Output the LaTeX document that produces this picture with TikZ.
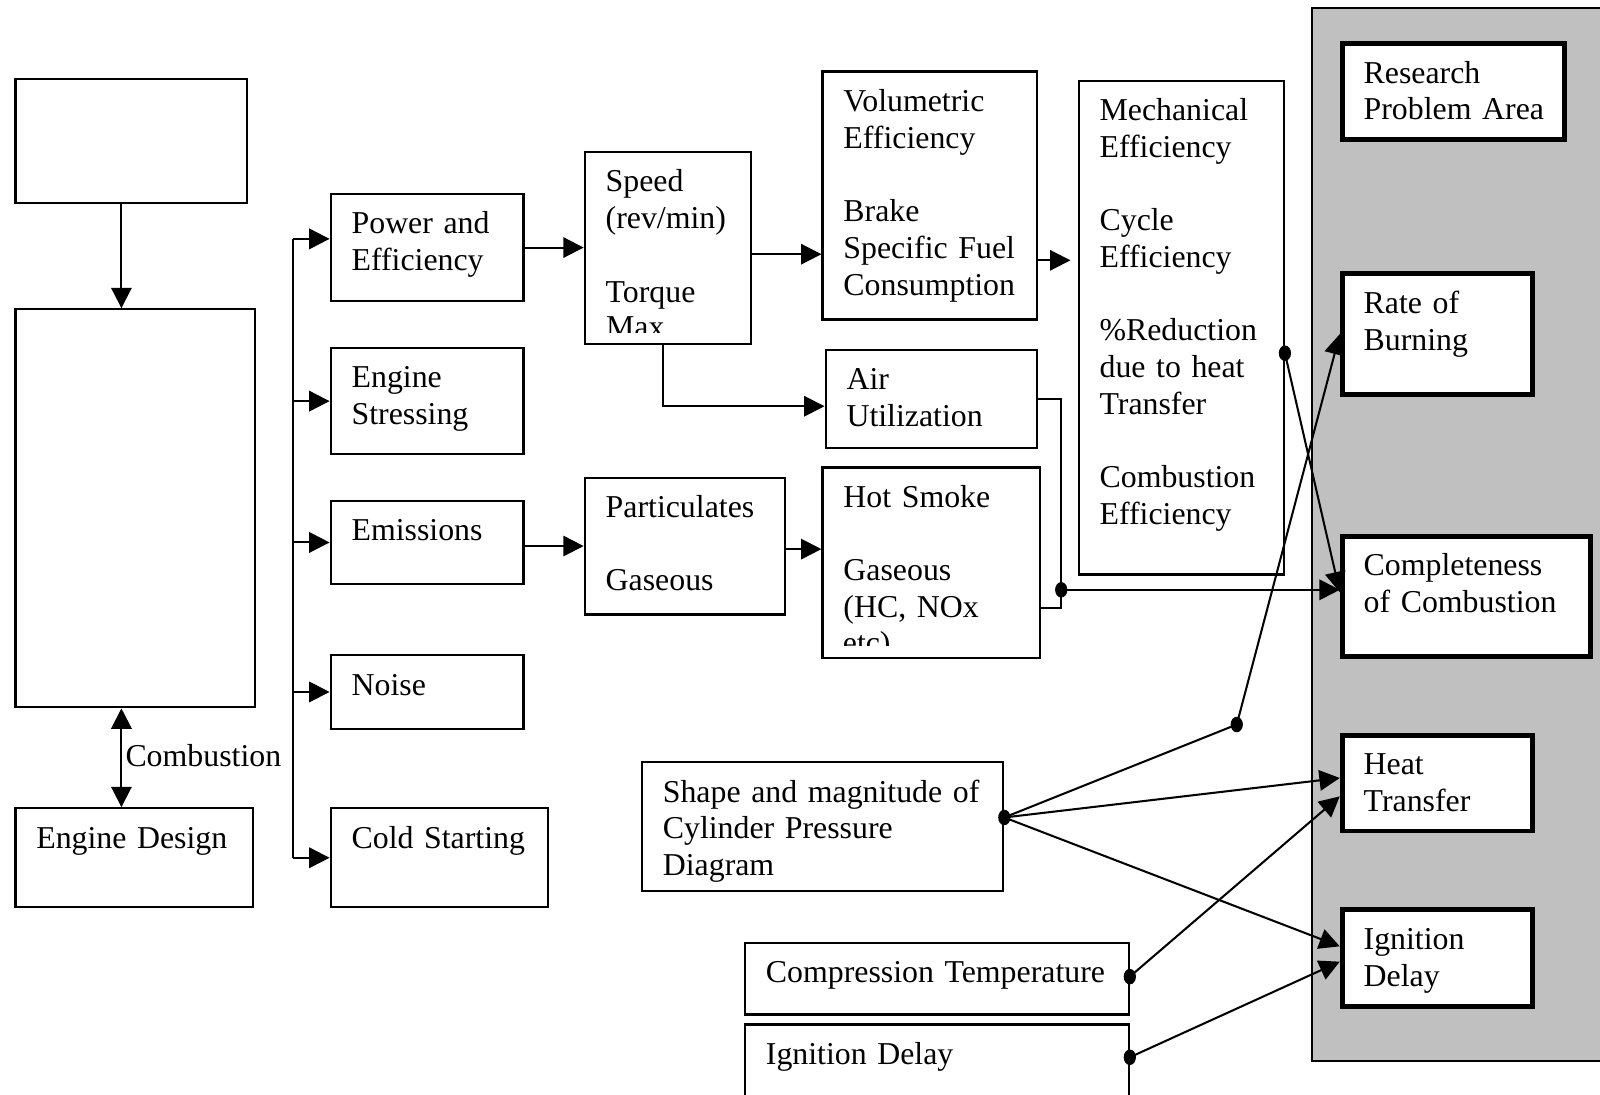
\documentclass[tikz,border=0pt]{standalone}
\usepackage{fontspec}
\setmainfont{Liberation Serif}
\usetikzlibrary{arrows.meta}

\begin{document}
\begin{tikzpicture}[x=0.5pt,y=0.5pt,yscale=-1,xscale=1,
  font=\fontsize{15.6}{18}\selectfont, line width=1pt,
  box/.style={draw, line width=1.1pt, anchor=north west, align=left, inner xsep=10.25pt, inner ysep=0pt, text height=19.5pt},
  rbox/.style={draw, line width=2.4pt, fill=white, anchor=north west, align=left, inner xsep=10.5pt, inner ysep=0pt, text height=19.5pt},
  arr/.style={-{Triangle[length=10pt,width=10pt]}},
  dbl/.style={{Triangle[length=10pt,width=10pt]}-{Triangle[length=10pt,width=10pt]}},
  jdot/.style={x radius=3pt, y radius=3.8pt}]
\useasboundingbox (0,0) rectangle (1568,1073);

%Shape: Research panel
\draw [fill={rgb,255:red,192;green,192;blue,192}, line width=1pt] (1286,8) rectangle (1600,1040);

%Shape: Left column
\node [box, text width=93pt, text depth=41.5pt] (top) at (14,76) {};
\node [box, text width=97pt, text depth=175.5pt] (mid) at (14,302) {};
\node [box, text width=96pt, text depth=29pt] (design) at (14,791) {Engine~Design};

%Shape: Branches
\node [box, text width=74pt, text depth=33pt] (power) at (323,189) {Power and\\Efficiency};
\node [box, text width=74pt, text depth=32.5pt] (stress) at (323,340) {Engine\\Stressing};
\node [box, text width=74pt, text depth=21pt] (emis) at (323,490) {Emissions};
\node [box, text width=74pt, text depth=16.5pt] (noise) at (323,641) {Noise};
\node [box, text width=86pt, text depth=29pt] (cold) at (323,791) {Cold~Starting};

%Shape: Measures
\node [box, text width=61pt, text depth=74.5pt] (speed) at (572,148) {Speed\\(rev/min)\\[18pt]Torque};
\node [box, text width=84.5pt, text depth=102pt] (vol) at (805,69) {Volumetric\\Efficiency\\[18pt]Brake\\Specific~Fuel\\Consumption};
\node [box, text width=80pt, text depth=222.5pt] (mech) at (1056,78) {Mechanical\\Efficiency\\[18pt]Cycle\\Efficiency\\[18pt]\%Reduction\\due to heat\\Transfer\\[18pt]Combustion\\Efficiency};
\node [box, text width=83pt, text depth=28.5pt] (air) at (808,342) {Air\\Utilization};
\node [box, text width=77.5pt, text depth=47.5pt] (part) at (572,467) {Particulates\\[18pt]Gaseous};
\node [box, text width=86pt, text depth=74pt] (smoke) at (805,457) {Hot~Smoke\\[18pt]Gaseous\\(HC, NOx};

% Text Node (cut lines)
\begin{scope}
\clip (572,148) rectangle (735,326);
\node [anchor=base west, inner sep=0pt] (tmax) at (593,331) {Max};
\end{scope}
\begin{scope}
\clip (805,457) rectangle (1018,633);
\node [anchor=base west, inner sep=0pt] (tetc) at (825,640) {etc)};
\end{scope}

%Shape: Diagnostics
\node [box, text width=156.5pt, text depth=43.5pt] (shape) at (628,746) {Shape and magnitude of\\Cylinder Pressure\\Diagram};
\node [box, text width=167.5pt, text depth=15.5pt] (comp) at (729,923) {Compression~Temperature};
\node [box, text width=167.5pt, text depth=30.5pt] (igd) at (729,1003) {Ignition Delay};

%Shape: Research problem areas
\node [rbox, text width=88pt, text depth=27.5pt] (rpa) at (1313,40) {Research\\Problem~Area};
\node [rbox, text width=72pt, text depth=39.5pt] (rob) at (1313,266) {Rate of\\Burning};
\node [rbox, text width=100.5pt, text depth=39.5pt] (coc) at (1313,523) {Completeness\\of~Combustion};
\node [rbox, text width=72pt, text depth=27.5pt] (ht) at (1313,718) {Heat\\Transfer};
\node [rbox, text width=72pt, text depth=28pt] (igr) at (1313,889) {Ignition\\Delay};

%Lines: left column
\coordinate (ax) at (119,0);
\draw [arr] (top.south -| ax) -- (mid.north -| ax);
\draw [dbl] (mid.south -| ax) -- node [anchor=west, inner sep=1.5pt, yshift=1pt] (comb) {Combustion} (design.north -| ax);

%Lines: trunk
\coordinate (tr) at (287,0);
\coordinate (b1) at ([yshift=-4.25pt]power.west);
\draw (b1 -| tr) -- (cold.west -| tr);
\draw [arr] (b1 -| tr) -- (b1);
\foreach \n in {stress,emis,noise,cold}
  \draw [arr] (\n.west -| tr) -- (\n.west);

%Lines: chains
\draw [arr] (power.east) -- (power.east -| speed.west);
\coordinate (s1) at ([yshift=3pt]speed.east);
\draw [arr] (s1) -- (s1 -| vol.west);
\coordinate (v1) at ([yshift=31.75pt]vol.east);
\draw [arr, shorten >=3.5pt] (v1) -- (v1 -| mech.west);
\coordinate (s2) at ([xshift=-2.25pt]speed.south);
\draw [arr] (s2) |- ([yshift=3.5pt]air.west);
\draw [arr] (part.west -| emis.east) -- (part.west);
\coordinate (p1) at ([yshift=1.5pt]part.east);
\draw [arr] (p1) -- (p1 -| smoke.west);

%Lines: to completeness
\coordinate (jn) at (1040,578);
\draw (air.east) -| (jn) |- ([yshift=22.25pt]smoke.east);
\draw [arr] (jn) -- (jn -| coc.west);
\coordinate (md) at ([yshift=12.5pt]mech.east);
\draw [arr] (md) -- ([yshift=-2pt]coc.west);

%Lines: diagnostics
\coordinate (sd) at ([yshift=-4.5pt]shape.east);
\coordinate (jb) at (1212,710);
\coordinate (cd) at ([yshift=-1pt]comp.east);
\coordinate (gd) at ([yshift=-9pt]igd.east);
\draw (sd) -- (jb);
\draw [arr] (jb) -- (rob.west);
\draw [arr] (sd) -- ([yshift=-2.5pt]ht.west);
\draw [arr] (sd) -- ([yshift=-5.75pt]igr.west);
\draw [arr] (cd) -- ([yshift=6.5pt]ht.west);
\draw [arr] (gd) -- ([yshift=1.75pt]igr.west);

%Shape: junction dots
\foreach \c in {sd,jb,cd,gd,md,jn}
  \fill (\c) ellipse [jdot];
\end{tikzpicture}
\end{document}
